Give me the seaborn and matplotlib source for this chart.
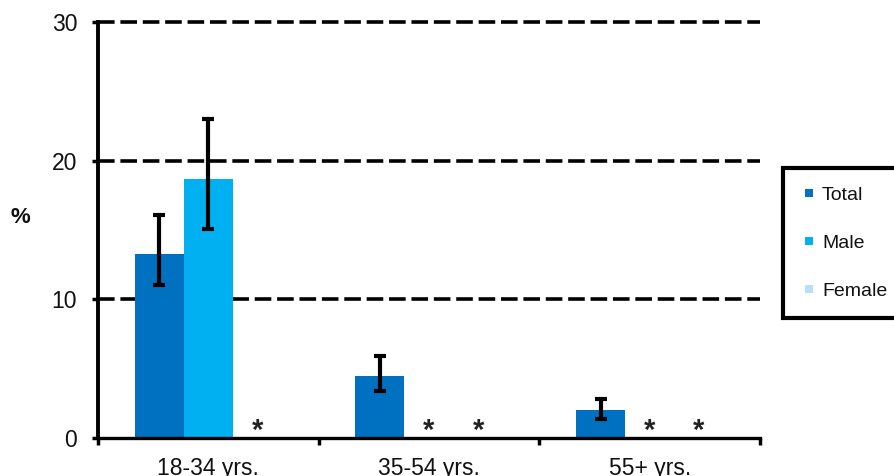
import numpy as np
import pandas as pd
import matplotlib
matplotlib.use("Agg")
import matplotlib.pyplot as plt
from matplotlib.lines import Line2D
import seaborn as sns

# Prevalence estimates (%) by age group; NaN = estimate suppressed (*)
age_groups = ["18-34 yrs.", "35-54 yrs.", "55+ yrs."]
series = ["Total", "Male", "Female"]
total_pct = [13.3, 4.5, 2.0]
male_pct = [18.7, np.nan, np.nan]
female_pct = [np.nan, np.nan, np.nan]
total_ci_low = [11.0, 3.4, 1.4]
total_ci_high = [16.1, 5.9, 2.8]
male_ci_low = [15.1, np.nan, np.nan]
male_ci_high = [23.0, np.nan, np.nan]
female_ci_low = [np.nan, np.nan, np.nan]
female_ci_high = [np.nan, np.nan, np.nan]
y_ticks = [0, 10, 20, 30]
colors = ["#0070C0", "#00B0F0", "#B8DEFA"]

values = {"Total": total_pct, "Male": male_pct, "Female": female_pct}
lows = {"Total": total_ci_low, "Male": male_ci_low, "Female": female_ci_low}
highs = {"Total": total_ci_high, "Male": male_ci_high, "Female": female_ci_high}

rows = []
for s in series:
    for i, g in enumerate(age_groups):
        rows.append({"age": g, "series": s, "pct": values[s][i],
                     "low": lows[s][i], "high": highs[s][i]})
df = pd.DataFrame(rows)

sns.set_theme(style="white")
plt.rcParams["font.family"] = ["Liberation Sans", "DejaVu Sans"]

fig = plt.figure(figsize=(8.94, 4.76), dpi=100)
ax = fig.add_axes([98 / 894, 38 / 476, 662 / 894, 416 / 476])

group_width = 0.667
palette = dict(zip(series, colors))
sns.barplot(data=df.dropna(subset=["pct"]), x="age", y="pct", hue="series",
            order=age_groups, hue_order=series, palette=palette,
            width=group_width, errorbar=None, legend=False,
            linewidth=0, saturation=1, ax=ax, zorder=2)

# dashed reference lines
for yv in y_ticks[1:]:
    ax.axhline(yv, color="black", lw=2.6, ls=(0, (4.6, 1.6)), zorder=1,
               clip_on=False)

bar_w = group_width / len(series)
for j, s in enumerate(series):
    offset = (j - (len(series) - 1) / 2) * bar_w
    sub = df[df["series"] == s].reset_index(drop=True)
    for i, row in sub.iterrows():
        x = age_groups.index(row["age"]) + offset
        if np.isnan(row["pct"]):
            ax.text(x, -0.1, "*", ha="center", va="baseline", fontsize=21,
                    fontweight="bold", color="#222222", zorder=4)
        else:
            ax.errorbar(x, row["pct"],
                        yerr=[[row["pct"] - row["low"]], [row["high"] - row["pct"]]],
                        fmt="none", ecolor="black", elinewidth=3,
                        capsize=4.3, capthick=3, zorder=3)

ax.set_xlim(-0.5, len(age_groups) - 0.5)
ax.set_ylim(0, 30)
ax.set_yticks(y_ticks)
ax.set_xticks(range(len(age_groups)))
ax.set_xticks(np.arange(-0.5, len(age_groups)), minor=True)
ax.set_xticklabels(age_groups)
ax.tick_params(axis="x", which="major", length=0, pad=14, labelsize=16.5,
               labelcolor="#111111")
ax.tick_params(axis="x", which="minor", bottom=True, length=5, width=2.5,
               color="black")
ax.tick_params(axis="y", left=True, length=4, width=2.5, pad=11, labelsize=16.5,
               labelcolor="#111111", color="black")

for side in ["top", "right"]:
    ax.spines[side].set_visible(False)
ax.spines["left"].set_linewidth(2.8)
ax.spines["bottom"].set_linewidth(2.4)
for side in ["left", "bottom"]:
    ax.spines[side].set_color("black")
    ax.spines[side].set_zorder(5)

ax.set_xlabel("")
ax.set_ylabel("%", rotation=0, fontsize=16, fontweight="bold",
              color="#111111", va="center", ha="center")
ax.yaxis.set_label_coords(-0.118, 0.529)

handles = [Line2D([], [], ls="none", marker="s", markersize=5.5,
                  markerfacecolor=c, markeredgewidth=0) for c in colors]
leg = fig.legend(handles, series, loc="upper left",
                 bbox_to_anchor=(783 / 894, 1 - 168 / 476, 0.2, 0.0),
                 mode="expand", fontsize=14, frameon=True, fancybox=False,
                 framealpha=1, borderpad=0.95, labelspacing=1.55,
                 handlelength=0.8, handletextpad=0.25, borderaxespad=0)
leg.get_frame().set_edgecolor("black")
leg.get_frame().set_linewidth(3)
for t in leg.get_texts():
    t.set_color("#111111")

fig.savefig("out.png", dpi=100)
